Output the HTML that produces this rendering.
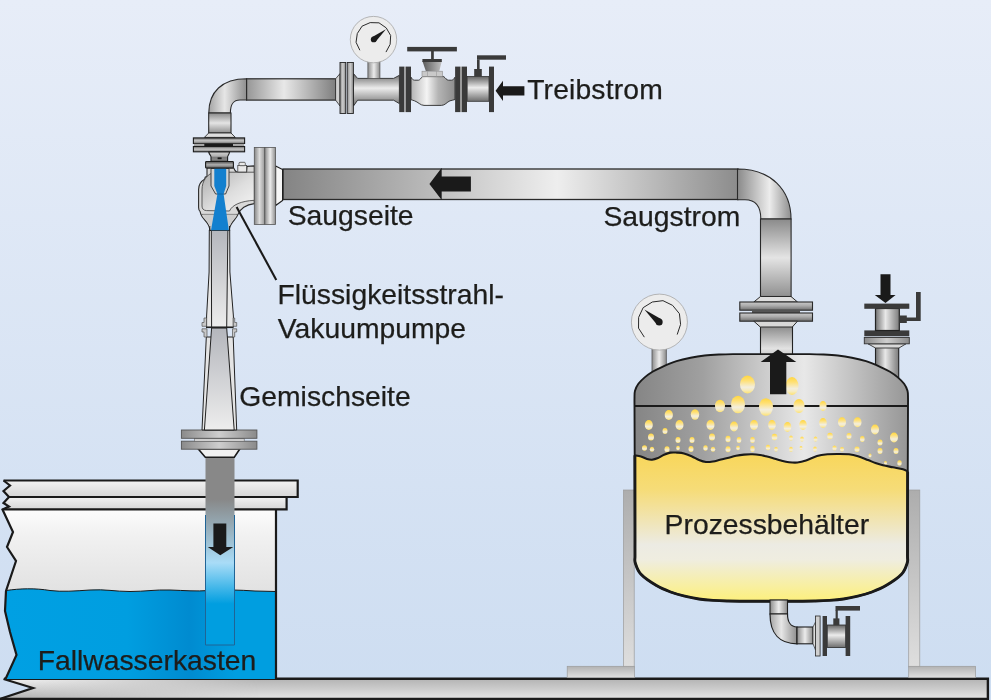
<!DOCTYPE html>
<html lang="de"><head><meta charset="utf-8"><title>Flüssigkeitsstrahl-Vakuumpumpe</title>
<style>
html,body{margin:0;padding:0;background:#d6e2f4;overflow:hidden}
svg{display:block}
text{font-family:"Liberation Sans",sans-serif;font-size:28.3px;fill:#1d1d1b;stroke:#1d1d1b;stroke-width:.25px}
</style></head><body>
<svg width="991" height="700" viewBox="0 0 991 700">
<defs>
<linearGradient id="bg" x1="0" y1="0" x2="0" y2="1"><stop offset="0" stop-color="#e7edf8"/><stop offset="1" stop-color="#cdddf1"/></linearGradient>
<linearGradient id="mv" x1="0" y1="0" x2="0" y2="1"><stop offset="0" stop-color="#646464"/><stop offset=".45" stop-color="#ececec"/><stop offset="1" stop-color="#6e6e6e"/></linearGradient>
<linearGradient id="mv2" x1="0" y1="0" x2="0" y2="1"><stop offset="0" stop-color="#8a8a8a"/><stop offset=".5" stop-color="#e4e4e4"/><stop offset="1" stop-color="#909090"/></linearGradient>
<linearGradient id="mh" x1="0" y1="0" x2="1" y2="0"><stop offset="0" stop-color="#8c8c8c"/><stop offset=".5" stop-color="#ececec"/><stop offset="1" stop-color="#8c8c8c"/></linearGradient>
<linearGradient id="mhs" x1="0" y1="0" x2="1" y2="0"><stop offset="0" stop-color="#727272"/><stop offset=".42" stop-color="#e8e8e8"/><stop offset="1" stop-color="#7c7c7c"/></linearGradient>
<linearGradient id="flv" x1="0" y1="0" x2="0" y2="1"><stop offset="0" stop-color="#cacaca"/><stop offset=".45" stop-color="#acacac"/><stop offset="1" stop-color="#6e6e6e"/></linearGradient>
<linearGradient id="neckv" x1="0" y1="0" x2="0" y2="1"><stop offset="0" stop-color="#8a8a8a"/><stop offset=".7" stop-color="#e2e2e2"/><stop offset="1" stop-color="#c4c4c4"/></linearGradient>
<linearGradient id="neck2" x1="0" y1="0" x2="0" y2="1"><stop offset="0" stop-color="#d2d2d2"/><stop offset=".45" stop-color="#b0b0b0"/><stop offset=".55" stop-color="#7c7c7c"/><stop offset="1" stop-color="#8a8a8a"/></linearGradient>
<linearGradient id="mhd" x1="0" y1="0" x2="1" y2="0"><stop offset="0" stop-color="#858585"/><stop offset=".5" stop-color="#dcdcdc"/><stop offset="1" stop-color="#989898"/></linearGradient>
<linearGradient id="mh2" x1="0" y1="0" x2="1" y2="0"><stop offset="0" stop-color="#8a8a8a"/><stop offset=".5" stop-color="#cecece"/><stop offset="1" stop-color="#8a8a8a"/></linearGradient>
<linearGradient id="drive" x1="0" y1="0" x2="1" y2="0"><stop offset="0" stop-color="#969696"/><stop offset=".42" stop-color="#e8e8e8"/><stop offset="1" stop-color="#7f7f7f"/></linearGradient>
<linearGradient id="sucL" x1="0" y1="0" x2="1" y2="0"><stop offset="0" stop-color="#848484"/><stop offset="1" stop-color="#bebebe"/></linearGradient>
<linearGradient id="sucR" x1="0" y1="0" x2="1" y2="0"><stop offset="0" stop-color="#c2c2c2"/><stop offset=".39" stop-color="#eeeeee"/><stop offset="1" stop-color="#8c8c8c"/></linearGradient>
<linearGradient id="suc" x1="0" y1="0" x2="1" y2="0"><stop offset="0" stop-color="#858585"/><stop offset=".3" stop-color="#8e8e8e"/><stop offset=".78" stop-color="#e0e0e0"/><stop offset="1" stop-color="#a2a2a2"/></linearGradient>
<linearGradient id="fl" x1="0" y1="0" x2="0" y2="1"><stop offset="0" stop-color="#707070"/><stop offset=".5" stop-color="#c4c4c4"/><stop offset="1" stop-color="#7e7e7e"/></linearGradient>
<linearGradient id="fl2" x1="0" y1="0" x2="0" y2="1"><stop offset="0" stop-color="#505050"/><stop offset=".5" stop-color="#b0b0b0"/><stop offset="1" stop-color="#5a5a5a"/></linearGradient>
<linearGradient id="elb1" x1="0" y1="0" x2="1" y2="0"><stop offset="0" stop-color="#a4a4a4"/><stop offset=".42" stop-color="#e6e6e6"/><stop offset="1" stop-color="#8e8e8e"/></linearGradient>
<linearGradient id="elb2" x1="0" y1="0" x2="1" y2="0"><stop offset="0" stop-color="#8a8a8a"/><stop offset=".6" stop-color="#ececec"/><stop offset="1" stop-color="#8e8e8e"/></linearGradient>
<linearGradient id="tankm" x1="0" y1="0" x2="1" y2="0"><stop offset="0" stop-color="#858585"/><stop offset=".25" stop-color="#a0a0a0"/><stop offset=".62" stop-color="#e8e8e8"/><stop offset="1" stop-color="#969696"/></linearGradient>
<linearGradient id="liq" x1="0" y1="0" x2="0" y2="1"><stop offset="0" stop-color="#f8d65a"/><stop offset=".25" stop-color="#f6dc78"/><stop offset=".62" stop-color="#ecebe3"/><stop offset=".72" stop-color="#efede0"/><stop offset="1" stop-color="#fdf07c"/></linearGradient>
<linearGradient id="bub" x1="0" y1="0" x2="0" y2="1"><stop offset="0" stop-color="#ffd640"/><stop offset=".28" stop-color="#ffe074"/><stop offset=".65" stop-color="#f3eedd"/><stop offset=".8" stop-color="#f6ebc0"/><stop offset="1" stop-color="#ffe26c"/></linearGradient>
<linearGradient id="water" x1="0" y1="0" x2="1" y2="0"><stop offset="0" stop-color="#00a0e3"/><stop offset=".45" stop-color="#009ee0"/><stop offset=".68" stop-color="#008bd0"/><stop offset=".85" stop-color="#009ee0"/><stop offset="1" stop-color="#009ee0"/></linearGradient>
<linearGradient id="tankin" x1="0" y1="0" x2="0" y2="1"><stop offset="0" stop-color="#fcfcfc"/><stop offset=".15" stop-color="#f1f1f1"/><stop offset=".48" stop-color="#e2e2e2"/><stop offset="1" stop-color="#e2e2e2"/></linearGradient>
<linearGradient id="lid" x1="0" y1="0" x2="0" y2="1"><stop offset="0" stop-color="#f2f2f2"/><stop offset="1" stop-color="#d6d6d6"/></linearGradient>
<linearGradient id="floor" x1="0" y1="0" x2="0" y2="1"><stop offset="0" stop-color="#b4b4b4"/><stop offset="1" stop-color="#e4e4e4"/></linearGradient>
<linearGradient id="floorL" x1="0" y1="0" x2="0" y2="1"><stop offset="0" stop-color="#eeeeee"/><stop offset="1" stop-color="#b2b2b2"/></linearGradient>
<linearGradient id="fadeL" gradientUnits="userSpaceOnUse" x1="30" y1="0" x2="260" y2="0"><stop offset="0" stop-color="#fff"/><stop offset="1" stop-color="#000"/></linearGradient>
<mask id="mL"><rect x="0" y="670" width="300" height="30" fill="url(#fadeL)"/></mask>
<linearGradient id="fall" gradientUnits="userSpaceOnUse" x1="0" y1="458" x2="0" y2="645"><stop offset="0" stop-color="#888888"/><stop offset=".22" stop-color="#888888"/><stop offset=".56" stop-color="#a9dcf7"/><stop offset=".78" stop-color="#009ee0"/><stop offset="1" stop-color="#009ee0"/></linearGradient>
<linearGradient id="leg" x1="0" y1="0" x2="0" y2="1"><stop offset="0" stop-color="#adadad"/><stop offset="1" stop-color="#dedede"/></linearGradient>
<linearGradient id="base" x1="0" y1="0" x2="0" y2="1"><stop offset="0" stop-color="#b2b2b2"/><stop offset="1" stop-color="#e0e0e0"/></linearGradient>
<linearGradient id="body" x1="0" y1="0" x2="1" y2="1"><stop offset="0" stop-color="#adadad"/><stop offset=".55" stop-color="#dedede"/><stop offset="1" stop-color="#f6f6f6"/></linearGradient>
<linearGradient id="tube" x1="0" y1="0" x2="0" y2="1"><stop offset="0" stop-color="#b4b6bc"/><stop offset="1" stop-color="#ededed"/></linearGradient>
<linearGradient id="vbody" x1="0" y1="0" x2="1" y2="0"><stop offset="0" stop-color="#b4b4b4"/><stop offset=".36" stop-color="#f4f4f4"/><stop offset=".62" stop-color="#b4b4b4"/><stop offset="1" stop-color="#8e8e8e"/></linearGradient>
<linearGradient id="bonnet" x1="0" y1="0" x2="1" y2="0"><stop offset="0" stop-color="#5a5a5a"/><stop offset="1" stop-color="#c0c0c0"/></linearGradient>
</defs>
<rect x="0" y="0" width="991" height="700" fill="url(#bg)"/>
<g id="floor">
<path d="M4,679 L988,679 L988,699 L0,699 L33,688 Z" fill="url(#floor)"/>
<path d="M4,679 L300,679 L300,699 L0,699 L33,688 Z" fill="url(#floorL)" mask="url(#mL)"/>
<path d="M4,678.8 L987.9,678.8 L987.9,699 L-3,699" fill="none" stroke="#1a1a1a" stroke-width="2.4"/>
<path d="M3.5,679 L33,688 L-2,699.5" fill="none" stroke="#1a1a1a" stroke-width="2.2" stroke-linejoin="miter"/>
</g>
<g id="legs">
<rect x="623.4" y="490" width="10.8" height="177" fill="url(#leg)" stroke="#9c9c9c" stroke-width=".7"/>
<rect x="567.2" y="666.3" width="67.3" height="11.4" fill="url(#base)" stroke="#9c9c9c" stroke-width=".7"/>
<rect x="908.7" y="490" width="11.1" height="177" fill="url(#leg)" stroke="#9c9c9c" stroke-width=".7"/>
<rect x="908.7" y="666.3" width="66.9" height="11.4" fill="url(#base)" stroke="#9c9c9c" stroke-width=".7"/>
</g>
<g id="tankfit-back">
<rect x="652" y="348" width="14.3" height="26" fill="url(#mh)" stroke="#555" stroke-width=".8"/>
<rect x="760.5" y="326" width="32" height="32" fill="url(#neckv)" stroke="#222" stroke-width="1.1"/>
<rect x="875.5" y="347" width="23.2" height="32" fill="url(#mhs)" stroke="#222" stroke-width="1.1"/>
</g>
<g id="tank">
<clipPath id="tankclip"><path d="M634.50,406.00 C634.50,404.67 634.42,400.53 634.50,398.00 C634.58,395.47 634.35,393.17 635.00,390.80 C635.65,388.43 636.78,386.03 638.40,383.80 C640.02,381.57 642.35,379.40 644.70,377.40 C647.05,375.40 649.55,373.57 652.50,371.80 C655.45,370.03 658.40,368.57 662.40,366.80 C666.40,365.03 671.80,362.72 676.50,361.20 C681.20,359.68 685.90,358.65 690.60,357.70 C695.30,356.75 699.98,356.03 704.70,355.50 C709.42,354.97 714.18,354.73 718.90,354.50 C723.62,354.27 726.15,354.17 733.00,354.10 C739.85,354.03 751.75,354.10 760.00,354.10 C768.25,354.10 774.25,354.10 782.50,354.10 C790.75,354.10 802.65,354.03 809.50,354.10 C816.35,354.17 818.88,354.27 823.60,354.50 C828.32,354.73 833.08,354.97 837.80,355.50 C842.52,356.03 847.20,356.75 851.90,357.70 C856.60,358.65 861.30,359.68 866.00,361.20 C870.70,362.72 876.10,365.03 880.10,366.80 C884.10,368.57 887.05,370.03 890.00,371.80 C892.95,373.57 895.45,375.40 897.80,377.40 C900.15,379.40 902.48,381.57 904.10,383.80 C905.72,386.03 906.85,388.43 907.50,390.80 C908.15,393.17 907.92,395.47 908.00,398.00 C908.08,400.53 908.00,404.67 908.00,406.00 L907.50,540.00 C907.50,542.67 907.55,552.17 907.50,556.00 C907.45,559.83 908.20,559.95 907.20,563.00 C906.20,566.05 905.03,570.53 901.50,574.30 C897.97,578.07 890.93,582.65 886.00,585.60 C881.07,588.55 876.60,590.23 871.90,592.00 C867.20,593.77 862.52,595.03 857.80,596.20 C853.08,597.37 848.32,598.30 843.60,599.00 C838.88,599.70 834.18,600.07 829.50,600.40 C824.82,600.73 820.83,600.87 815.50,601.00 C810.17,601.13 809.25,601.17 797.50,601.20 C785.75,601.23 756.75,601.23 745.00,601.20 C733.25,601.17 732.33,601.13 727.00,601.00 C721.67,600.87 717.68,600.73 713.00,600.40 C708.32,600.07 703.62,599.70 698.90,599.00 C694.18,598.30 689.42,597.37 684.70,596.20 C679.98,595.03 675.30,593.77 670.60,592.00 C665.90,590.23 661.43,588.55 656.50,585.60 C651.57,582.65 644.53,578.07 641.00,574.30 C637.47,570.53 636.30,566.05 635.30,563.00 C634.30,559.95 635.05,559.83 635.00,556.00 C634.95,552.17 635.00,542.67 635.00,540.00 Z"/></clipPath>
<path d="M634.50,406.00 C634.50,404.67 634.42,400.53 634.50,398.00 C634.58,395.47 634.35,393.17 635.00,390.80 C635.65,388.43 636.78,386.03 638.40,383.80 C640.02,381.57 642.35,379.40 644.70,377.40 C647.05,375.40 649.55,373.57 652.50,371.80 C655.45,370.03 658.40,368.57 662.40,366.80 C666.40,365.03 671.80,362.72 676.50,361.20 C681.20,359.68 685.90,358.65 690.60,357.70 C695.30,356.75 699.98,356.03 704.70,355.50 C709.42,354.97 714.18,354.73 718.90,354.50 C723.62,354.27 726.15,354.17 733.00,354.10 C739.85,354.03 751.75,354.10 760.00,354.10 C768.25,354.10 774.25,354.10 782.50,354.10 C790.75,354.10 802.65,354.03 809.50,354.10 C816.35,354.17 818.88,354.27 823.60,354.50 C828.32,354.73 833.08,354.97 837.80,355.50 C842.52,356.03 847.20,356.75 851.90,357.70 C856.60,358.65 861.30,359.68 866.00,361.20 C870.70,362.72 876.10,365.03 880.10,366.80 C884.10,368.57 887.05,370.03 890.00,371.80 C892.95,373.57 895.45,375.40 897.80,377.40 C900.15,379.40 902.48,381.57 904.10,383.80 C905.72,386.03 906.85,388.43 907.50,390.80 C908.15,393.17 907.92,395.47 908.00,398.00 C908.08,400.53 908.00,404.67 908.00,406.00 L907.50,540.00 C907.50,542.67 907.55,552.17 907.50,556.00 C907.45,559.83 908.20,559.95 907.20,563.00 C906.20,566.05 905.03,570.53 901.50,574.30 C897.97,578.07 890.93,582.65 886.00,585.60 C881.07,588.55 876.60,590.23 871.90,592.00 C867.20,593.77 862.52,595.03 857.80,596.20 C853.08,597.37 848.32,598.30 843.60,599.00 C838.88,599.70 834.18,600.07 829.50,600.40 C824.82,600.73 820.83,600.87 815.50,601.00 C810.17,601.13 809.25,601.17 797.50,601.20 C785.75,601.23 756.75,601.23 745.00,601.20 C733.25,601.17 732.33,601.13 727.00,601.00 C721.67,600.87 717.68,600.73 713.00,600.40 C708.32,600.07 703.62,599.70 698.90,599.00 C694.18,598.30 689.42,597.37 684.70,596.20 C679.98,595.03 675.30,593.77 670.60,592.00 C665.90,590.23 661.43,588.55 656.50,585.60 C651.57,582.65 644.53,578.07 641.00,574.30 C637.47,570.53 636.30,566.05 635.30,563.00 C634.30,559.95 635.05,559.83 635.00,556.00 C634.95,552.17 635.00,542.67 635.00,540.00 Z" fill="url(#tankm)"/>
<g clip-path="url(#tankclip)">
<path d="M634.50,455.20 C635.58,455.42 638.92,455.87 641.00,456.50 C643.08,457.13 645.17,458.47 647.00,459.00 C648.83,459.53 650.17,459.87 652.00,459.70 C653.83,459.53 656.00,458.82 658.00,458.00 C660.00,457.18 661.92,455.70 664.00,454.80 C666.08,453.90 668.33,452.97 670.50,452.60 C672.67,452.23 674.75,452.47 677.00,452.60 C679.25,452.73 681.50,452.75 684.00,453.40 C686.50,454.05 689.50,455.40 692.00,456.50 C694.50,457.60 696.67,459.08 699.00,460.00 C701.33,460.92 703.67,461.75 706.00,462.00 C708.33,462.25 710.67,461.87 713.00,461.50 C715.33,461.13 717.58,460.38 720.00,459.80 C722.42,459.22 724.83,458.67 727.50,458.00 C730.17,457.33 733.25,456.37 736.00,455.80 C738.75,455.23 741.25,454.85 744.00,454.60 C746.75,454.35 749.83,454.23 752.50,454.30 C755.17,454.37 757.75,454.67 760.00,455.00 C762.25,455.33 763.92,455.80 766.00,456.30 C768.08,456.80 770.00,457.30 772.50,458.00 C775.00,458.70 778.25,459.80 781.00,460.50 C783.75,461.20 786.25,461.87 789.00,462.20 C791.75,462.53 794.67,462.78 797.50,462.50 C800.33,462.22 802.75,461.58 806.00,460.50 C809.25,459.42 813.42,457.03 817.00,456.00 C820.58,454.97 824.00,454.63 827.50,454.30 C831.00,453.97 834.42,454.00 838.00,454.00 C841.58,454.00 845.67,453.93 849.00,454.30 C852.33,454.67 854.83,455.25 858.00,456.20 C861.17,457.15 865.08,458.87 868.00,460.00 C870.92,461.13 873.00,462.12 875.50,463.00 C878.00,463.88 880.08,464.58 883.00,465.30 C885.92,466.02 889.67,466.63 893.00,467.30 C896.33,467.97 900.50,468.60 903.00,469.30 C905.50,470.00 907.17,471.13 908.00,471.50 L907.50,540.00 C907.50,542.67 907.55,552.17 907.50,556.00 C907.45,559.83 908.20,559.95 907.20,563.00 C906.20,566.05 905.03,570.53 901.50,574.30 C897.97,578.07 890.93,582.65 886.00,585.60 C881.07,588.55 876.60,590.23 871.90,592.00 C867.20,593.77 862.52,595.03 857.80,596.20 C853.08,597.37 848.32,598.30 843.60,599.00 C838.88,599.70 834.18,600.07 829.50,600.40 C824.82,600.73 820.83,600.87 815.50,601.00 C810.17,601.13 809.25,601.17 797.50,601.20 C785.75,601.23 756.75,601.23 745.00,601.20 C733.25,601.17 732.33,601.13 727.00,601.00 C721.67,600.87 717.68,600.73 713.00,600.40 C708.32,600.07 703.62,599.70 698.90,599.00 C694.18,598.30 689.42,597.37 684.70,596.20 C679.98,595.03 675.30,593.77 670.60,592.00 C665.90,590.23 661.43,588.55 656.50,585.60 C651.57,582.65 644.53,578.07 641.00,574.30 C637.47,570.53 636.30,566.05 635.30,563.00 C634.30,559.95 635.05,559.83 635.00,556.00 C634.95,552.17 635.00,542.67 635.00,540.00 Z" fill="url(#liq)"/>
<line x1="634" y1="406" x2="909" y2="406" stroke="#1a1a1a" stroke-width="1.9"/>
</g>
<g fill="url(#bub)">
<ellipse cx="747.5" cy="384.5" rx="7.5" ry="9"/><ellipse cx="792" cy="386" rx="6.5" ry="9"/><ellipse cx="720" cy="406" rx="5" ry="6.2"/><ellipse cx="738" cy="404.5" rx="7" ry="8.8"/><ellipse cx="766" cy="407" rx="7" ry="8.8"/><ellipse cx="799" cy="406" rx="5.6" ry="7"/><ellipse cx="823" cy="406" rx="3.6" ry="5"/><ellipse cx="668.8" cy="415" rx="4.1" ry="5"/><ellipse cx="695" cy="414.5" rx="4.2" ry="5.2"/><ellipse cx="648.8" cy="425" rx="4" ry="5"/><ellipse cx="679.5" cy="425" rx="4" ry="5"/><ellipse cx="710.5" cy="425" rx="4" ry="5"/><ellipse cx="734" cy="426.5" rx="4" ry="5"/><ellipse cx="754" cy="425" rx="4" ry="5"/><ellipse cx="772" cy="425" rx="3.8" ry="5"/><ellipse cx="787.5" cy="427" rx="3.8" ry="5"/><ellipse cx="803" cy="425" rx="3.8" ry="5"/><ellipse cx="823" cy="423" rx="3.8" ry="5"/><ellipse cx="842" cy="422.3" rx="4" ry="5"/><ellipse cx="857.5" cy="422.3" rx="4" ry="5"/><ellipse cx="875" cy="429.5" rx="4" ry="5"/><ellipse cx="894" cy="437.5" rx="4" ry="5"/><ellipse cx="665" cy="431" rx="2.5" ry="3"/><ellipse cx="651" cy="437" rx="3" ry="3.5"/><ellipse cx="678" cy="440" rx="2.5" ry="3"/><ellipse cx="692" cy="440" rx="2.5" ry="3"/><ellipse cx="712" cy="437" rx="3" ry="3.5"/><ellipse cx="728" cy="439" rx="2.5" ry="3.2"/><ellipse cx="739" cy="440" rx="2.3" ry="3"/><ellipse cx="752.5" cy="440" rx="2.3" ry="3"/><ellipse cx="774.5" cy="437" rx="2.8" ry="3.3"/><ellipse cx="791" cy="438" rx="2" ry="2.5"/><ellipse cx="802" cy="439" rx="2" ry="2.5"/><ellipse cx="815.5" cy="439" rx="2" ry="2.5"/><ellipse cx="830" cy="436" rx="2.8" ry="3.3"/><ellipse cx="849" cy="436" rx="2.5" ry="3"/><ellipse cx="862.3" cy="439" rx="2.3" ry="3"/><ellipse cx="880" cy="442.5" rx="2.5" ry="3"/><ellipse cx="644.5" cy="448" rx="2.5" ry="2.8"/><ellipse cx="652" cy="449.2" rx="2.2" ry="2.5"/><ellipse cx="667" cy="449.2" rx="2.5" ry="3"/><ellipse cx="678" cy="448" rx="1.8" ry="2.2"/><ellipse cx="691" cy="449" rx="2.5" ry="3"/><ellipse cx="705.5" cy="448" rx="2.2" ry="2.8"/><ellipse cx="713" cy="449.2" rx="2.2" ry="2.5"/><ellipse cx="728" cy="449.2" rx="2.5" ry="3"/><ellipse cx="738" cy="448" rx="1.8" ry="2.2"/><ellipse cx="752.5" cy="449" rx="2.2" ry="3"/><ellipse cx="768" cy="447.5" rx="2.2" ry="2.8"/><ellipse cx="776" cy="449.2" rx="1.8" ry="2.2"/><ellipse cx="791" cy="449.2" rx="2" ry="2.5"/><ellipse cx="801" cy="448" rx="1.5" ry="2"/><ellipse cx="815" cy="449" rx="2" ry="2.5"/><ellipse cx="834.5" cy="448" rx="2.2" ry="2.5"/><ellipse cx="842" cy="449.2" rx="2" ry="2.2"/><ellipse cx="857" cy="449.2" rx="2.5" ry="2.8"/><ellipse cx="880" cy="451" rx="2.5" ry="3"/><ellipse cx="896" cy="451" rx="2.5" ry="3"/><ellipse cx="870" cy="455.5" rx="1.5" ry="2"/><ellipse cx="885.5" cy="463" rx="1.5" ry="2"/><ellipse cx="899.5" cy="463" rx="2.2" ry="2.8"/>
</g>
<path d="M634.50,406.00 C634.50,404.67 634.42,400.53 634.50,398.00 C634.58,395.47 634.35,393.17 635.00,390.80 C635.65,388.43 636.78,386.03 638.40,383.80 C640.02,381.57 642.35,379.40 644.70,377.40 C647.05,375.40 649.55,373.57 652.50,371.80 C655.45,370.03 658.40,368.57 662.40,366.80 C666.40,365.03 671.80,362.72 676.50,361.20 C681.20,359.68 685.90,358.65 690.60,357.70 C695.30,356.75 699.98,356.03 704.70,355.50 C709.42,354.97 714.18,354.73 718.90,354.50 C723.62,354.27 726.15,354.17 733.00,354.10 C739.85,354.03 751.75,354.10 760.00,354.10 C768.25,354.10 774.25,354.10 782.50,354.10 C790.75,354.10 802.65,354.03 809.50,354.10 C816.35,354.17 818.88,354.27 823.60,354.50 C828.32,354.73 833.08,354.97 837.80,355.50 C842.52,356.03 847.20,356.75 851.90,357.70 C856.60,358.65 861.30,359.68 866.00,361.20 C870.70,362.72 876.10,365.03 880.10,366.80 C884.10,368.57 887.05,370.03 890.00,371.80 C892.95,373.57 895.45,375.40 897.80,377.40 C900.15,379.40 902.48,381.57 904.10,383.80 C905.72,386.03 906.85,388.43 907.50,390.80 C908.15,393.17 907.92,395.47 908.00,398.00 C908.08,400.53 908.00,404.67 908.00,406.00 L907.50,540.00 C907.50,542.67 907.55,552.17 907.50,556.00 C907.45,559.83 908.20,559.95 907.20,563.00 C906.20,566.05 905.03,570.53 901.50,574.30 C897.97,578.07 890.93,582.65 886.00,585.60 C881.07,588.55 876.60,590.23 871.90,592.00 C867.20,593.77 862.52,595.03 857.80,596.20 C853.08,597.37 848.32,598.30 843.60,599.00 C838.88,599.70 834.18,600.07 829.50,600.40 C824.82,600.73 820.83,600.87 815.50,601.00 C810.17,601.13 809.25,601.17 797.50,601.20 C785.75,601.23 756.75,601.23 745.00,601.20 C733.25,601.17 732.33,601.13 727.00,601.00 C721.67,600.87 717.68,600.73 713.00,600.40 C708.32,600.07 703.62,599.70 698.90,599.00 C694.18,598.30 689.42,597.37 684.70,596.20 C679.98,595.03 675.30,593.77 670.60,592.00 C665.90,590.23 661.43,588.55 656.50,585.60 C651.57,582.65 644.53,578.07 641.00,574.30 C637.47,570.53 636.30,566.05 635.30,563.00 C634.30,559.95 635.05,559.83 635.00,556.00 C634.95,552.17 635.00,542.67 635.00,540.00 Z" fill="none" stroke="#1a1a1a" stroke-width="1.9"/>
<path d="M634.50,455.20 C635.58,455.42 638.92,455.87 641.00,456.50 C643.08,457.13 645.17,458.47 647.00,459.00 C648.83,459.53 650.17,459.87 652.00,459.70 C653.83,459.53 656.00,458.82 658.00,458.00 C660.00,457.18 661.92,455.70 664.00,454.80 C666.08,453.90 668.33,452.97 670.50,452.60 C672.67,452.23 674.75,452.47 677.00,452.60 C679.25,452.73 681.50,452.75 684.00,453.40 C686.50,454.05 689.50,455.40 692.00,456.50 C694.50,457.60 696.67,459.08 699.00,460.00 C701.33,460.92 703.67,461.75 706.00,462.00 C708.33,462.25 710.67,461.87 713.00,461.50 C715.33,461.13 717.58,460.38 720.00,459.80 C722.42,459.22 724.83,458.67 727.50,458.00 C730.17,457.33 733.25,456.37 736.00,455.80 C738.75,455.23 741.25,454.85 744.00,454.60 C746.75,454.35 749.83,454.23 752.50,454.30 C755.17,454.37 757.75,454.67 760.00,455.00 C762.25,455.33 763.92,455.80 766.00,456.30 C768.08,456.80 770.00,457.30 772.50,458.00 C775.00,458.70 778.25,459.80 781.00,460.50 C783.75,461.20 786.25,461.87 789.00,462.20 C791.75,462.53 794.67,462.78 797.50,462.50 C800.33,462.22 802.75,461.58 806.00,460.50 C809.25,459.42 813.42,457.03 817.00,456.00 C820.58,454.97 824.00,454.63 827.50,454.30 C831.00,453.97 834.42,454.00 838.00,454.00 C841.58,454.00 845.67,453.93 849.00,454.30 C852.33,454.67 854.83,455.25 858.00,456.20 C861.17,457.15 865.08,458.87 868.00,460.00 C870.92,461.13 873.00,462.12 875.50,463.00 C878.00,463.88 880.08,464.58 883.00,465.30 C885.92,466.02 889.67,466.63 893.00,467.30 C896.33,467.97 900.50,468.60 903.00,469.30 C905.50,470.00 907.17,471.13 908.00,471.50" fill="none" stroke="#1a1a1a" stroke-width="2.1" stroke-linejoin="round"/>
<path d="M907.60,471.50 L907.50,540.00 C907.50,542.67 907.55,552.17 907.50,556.00 C907.45,559.83 908.20,559.95 907.20,563.00 C906.20,566.05 905.03,570.53 901.50,574.30 C897.97,578.07 890.93,582.65 886.00,585.60 C881.07,588.55 876.60,590.23 871.90,592.00 C867.20,593.77 862.52,595.03 857.80,596.20 C853.08,597.37 848.32,598.30 843.60,599.00 C838.88,599.70 834.18,600.07 829.50,600.40 C824.82,600.73 820.83,600.87 815.50,601.00 C810.17,601.13 809.25,601.17 797.50,601.20 C785.75,601.23 756.75,601.23 745.00,601.20 C733.25,601.17 732.33,601.13 727.00,601.00 C721.67,600.87 717.68,600.73 713.00,600.40 C708.32,600.07 703.62,599.70 698.90,599.00 C694.18,598.30 689.42,597.37 684.70,596.20 C679.98,595.03 675.30,593.77 670.60,592.00 C665.90,590.23 661.43,588.55 656.50,585.60 C651.57,582.65 644.53,578.07 641.00,574.30 C637.47,570.53 636.30,566.05 635.30,563.00 C634.30,559.95 635.05,559.83 635.00,556.00 C634.95,552.17 635.00,542.67 635.00,540.00 L634.9,455.2" fill="none" stroke="#1a1a1a" stroke-width="2.9" stroke-linejoin="round"/>
</g>
<g id="gauge2">
<circle cx="659.4" cy="322.1" r="28" fill="#ececec" stroke="#a6a6a6" stroke-width=".8"/>
<polyline points="644.34,337.16 638.53,328.13 638.63,317.39 643.17,307.66 652.31,302.01 662.97,300.67 672.61,305.39 679.43,313.69 680.58,324.37 677.20,334.56" fill="none" stroke="#2a2a2a" stroke-width="1" stroke-linejoin="round"/>
<path d="M644.39,309.50 L661.42,319.23 L656.92,324.59 Z" fill="#1a1a1a"/><circle cx="659.17" cy="321.91" r="3.50" fill="#1a1a1a"/>
</g>
<g id="suction">
<rect x="283" y="169" width="158.5" height="30.5" fill="url(#sucL)"/>
<rect x="441.5" y="169" width="296.5" height="30.5" fill="url(#sucR)"/>
<rect x="283" y="169" width="455" height="30.5" fill="none" stroke="#2a2a2a" stroke-width="1.3"/>
<path d="M737.5,169 C771,169 791,190 791,219 L760.8,219 C760.8,207 756,199.8 745,199.8 L737.5,199.8 Z" fill="url(#elb2)" stroke="#2a2a2a" stroke-width="1.1"/>
<rect x="760.5" y="219" width="30.6" height="77.5" fill="url(#mv2)" stroke="#2a2a2a" stroke-width="1.1"/>
<path d="M760.5,296.5 L791,296.5 L797.5,302 L753.8,302 Z" fill="#dedede" stroke="#2a2a2a" stroke-width="1"/>
<rect x="739.8" y="302" width="72.7" height="8.2" fill="url(#flv)" stroke="#2a2a2a" stroke-width="1.1"/>
<rect x="752" y="310.2" width="48" height="3" fill="#555"/>
<rect x="739.8" y="313" width="72.7" height="8.2" fill="url(#flv)" stroke="#2a2a2a" stroke-width="1.1"/>
<path d="M753.8,321.2 L797.5,321.2 L792.3,327 L760.3,327 Z" fill="#d8d8d8" stroke="#2a2a2a" stroke-width="1"/>
</g>
<g id="rvalve">
<path d="M868,343.8 L906,343.8 L899,348 L875.5,348 Z" fill="#d8d8d8" stroke="#333" stroke-width=".9"/>
<rect x="864.3" y="337.5" width="45" height="6.3" fill="url(#mh2)" stroke="#333" stroke-width=".9"/>
<rect x="864.3" y="330.4" width="45" height="5.9" fill="#3a3a3a"/>
<rect x="875.5" y="308.5" width="23.8" height="22" fill="url(#mhs)" stroke="#222" stroke-width="1.2"/>
<rect x="864.3" y="303.6" width="45" height="5.2" fill="#3a3a3a"/>
<rect x="899.3" y="315.5" width="7.5" height="7.5" fill="#3a3a3a"/>
<path d="M906,317.5 L916,317.5 L916,292 L920.7,292 L920.7,321 L906,321 Z" fill="#3a3a3a"/>
</g>
<g id="drain">
<rect x="770" y="600" width="17.5" height="14" fill="url(#mh)" stroke="#1f1f1f" stroke-width="1.1"/>
<path d="M770,614 C770,634 780,643.8 797,643.8 L797,627 C791,627 787.5,622 787.5,614 Z" fill="url(#elb1)" stroke="#1f1f1f" stroke-width="1.2"/>
<rect x="797" y="627" width="16" height="16.8" fill="url(#mh)" stroke="#1f1f1f" stroke-width="1.1"/>
<path d="M813,627 L815.5,622 L815.5,650 L813,643.8 Z" fill="#ddd" stroke="#2a2a2a" stroke-width=".7"/>
<rect x="815.5" y="616" width="4.6" height="40" fill="#cfcfcf" stroke="#2a2a2a" stroke-width=".8"/>
<rect x="822.6" y="616" width="4.4" height="40" fill="#3a3a3a"/>
<rect x="827.3" y="625" width="18.4" height="22.5" fill="url(#mv)" stroke="#2a2a2a" stroke-width=".8"/>
<rect x="845.6" y="616" width="4.6" height="40" fill="#3a3a3a"/>
<rect x="835.5" y="606" width="24.5" height="4.6" fill="#3a3a3a"/>
<rect x="835.6" y="610" width="2.2" height="9" fill="#3a3a3a"/>
<rect x="833.3" y="618.4" width="6.1" height="6.8" fill="#3a3a3a"/>
</g>
<g id="fall">
<path d="M2.5,509.5 L276,509.5 L276,679 L5.5,679 L16.5,655 L10,632 L5,611 L6,591 L16,561 L7,547 L13,532 Z" fill="url(#tankin)"/>
<path d="M6,590.5 C20,588.5 35,588 50,590.5 C62,592 75,591 90,590 C105,589 115,591.5 130,591.5 C145,591.5 155,589.5 170,590 C185,590.5 195,591.5 210,590.5 C225,589.5 240,590 255,591 L276,591.5 L276,679 L5.5,679 L16.5,655 L10,632 L5,611 Z" fill="url(#water)"/>
<path d="M6,590.5 C20,588.5 35,588 50,590.5 C62,592 75,591 90,590 C105,589 115,591.5 130,591.5 C145,591.5 155,589.5 170,590 C185,590.5 195,591.5 210,590.5 C225,589.5 240,590 255,591 L276,591.5" fill="none" stroke="#1a1a1a" stroke-width="1"/>
<path d="M3.5,480.5 L297.7,480.5 L297.7,497 L9,497 L3.5,491 L10,485.5 Z" fill="url(#lid)"/>
<path d="M9,497 L286.6,497 L286.6,509.4 L2.5,509.5 L9,506.5 L3.5,503 Z" fill="url(#lid)"/>
<path d="M3.5,480.5 L297.7,480.5 L297.7,497 L9,497 M286.6,497 L286.6,509.4 L2.5,509.4 M276,509.4 L276,679" stroke="#1a1a1a" stroke-width="2.2" fill="none" stroke-linejoin="miter"/>
<path d="M3.5,480.5 L10,485.5 L3.5,491 L9,497 L3.5,503 L9,506.5 L2.5,509.5 L13,532 L7,547 L16,561 L6,591 L5,611 L10,632 L16.5,655 L5.5,679" stroke="#1a1a1a" stroke-width="2.2" fill="none" stroke-linejoin="miter"/>
<rect x="205.5" y="457" width="29" height="188" fill="url(#fall)"/>
<path d="M205.5,515 L205.5,645 L234.5,645 L234.5,515" fill="none" stroke="#1f6496" stroke-width="1"/>
</g>
<g id="diffuser">
<path d="M198.3,449 L239.8,449 L234.3,457.3 L205.3,457.3 Z" fill="#f0f0f0" stroke="#1a1a1a" stroke-width="1.6"/>
<rect x="181.4" y="441.2" width="75.5" height="8" fill="url(#mh2)" stroke="#555" stroke-width=".9"/>
<rect x="194.6" y="438.3" width="49.6" height="3" fill="#cfcfcf" stroke="#666" stroke-width=".6"/>
<rect x="181.4" y="430" width="75.5" height="8.3" fill="url(#mh2)" stroke="#555" stroke-width=".9"/>
<path d="M206.3,337 L233.2,337 L236.7,430 L202,430 Z" fill="#e4e4e4" stroke="#222" stroke-width="1"/>
<path d="M211.6,328 L226.7,328 L234.2,430 L204.4,430 Z" fill="url(#tube)" stroke="#222" stroke-width="1"/>
<path d="M209.3,230 L229.7,230 L229.9,272 L233.4,316 L233.4,327 L206.6,327 L206.6,316 L209.1,272 Z" fill="#e6e6e6" stroke="#222" stroke-width="1"/>
<path d="M211.3,230 L227.9,230 L226.7,327 L211.6,327 Z" fill="url(#tube)" stroke="#222" stroke-width="1"/>
<path d="M202,326.3 L202,322.5 L204,322.5 L204,318 L206.5,318 L206.5,326.3 Z M236.7,326.3 L236.7,322.5 L234.7,322.5 L234.7,318 L233.2,318 L233.2,326.3 Z" fill="#c8c8c8" stroke="#555" stroke-width=".7"/>
<path d="M202,328.8 L202,332 L204,332 L204,337 L207,337 L207,328.8 Z M236.7,328.8 L236.7,332 L234.7,332 L234.7,337 L232.5,337 L232.5,328.8 Z" fill="#c8c8c8" stroke="#555" stroke-width=".7"/>
<line x1="206" y1="327.5" x2="233.5" y2="327.5" stroke="#222" stroke-width="1.2"/>
</g>
<g id="pump">
<path d="M207,168 L207,176.5 L205.3,177 L204.6,179.3 C200.8,181.5 198.6,185 198.6,189.5 L198.6,207.5 C198.6,209.5 199.2,210.6 200,211.3 L200.9,214.4 C202.5,219.5 208.6,222 209.6,228.5 L209.6,230.5 L229.6,230.5 L229.6,228.5 C230.6,222 236.2,219.5 238,214.4 C240,209 246,204.3 254.3,203.6 L254.3,165.9 L247,166.4 L246.6,172 L236.5,172 L235,170.5 L233.7,168 Z" fill="#d8d8d8" stroke="#2a2a2a" stroke-width="1.1" stroke-linejoin="round"/>
<path d="M202,190 C202,180.5 207,174.5 214,172.2 L254.3,172.2 L254.3,200.3 C241,201 232,205 229.5,211 L206.5,210.6 C203.5,210.4 202,208.8 202,206 Z" fill="url(#body)" stroke="#3c3c3c" stroke-width=".8"/>
<path d="M200.9,214.4 L238,214.4" stroke="#4a4a4a" stroke-width=".7" fill="none"/>
<path d="M203,214.8 L236,214.8 C234.5,219.5 230.5,221.5 229.6,227 L209.6,227 C208.7,221.5 204.5,219.5 203,214.8 Z" fill="#cdcdcd"/>
<rect x="237.8" y="165.5" width="8.8" height="6.5" fill="#e8e8e8" stroke="#444" stroke-width=".8"/>
<rect x="239" y="162.3" width="6.3" height="3.4" rx="1" fill="#e8e8e8" stroke="#444" stroke-width=".8"/>
<path d="M211,168.5 L229,168.5 L229,186 L225.6,194 L215.6,194 L211,186 Z" fill="#d4d4d4" stroke="#333" stroke-width=".9"/>
<path d="M214.3,168.5 L226.2,168.5 L226.2,186 L223.6,194 L228.9,230.3 L211,230.3 L217.4,194 L214.3,186 Z" fill="#1380cf"/>
<line x1="217.4" y1="194" x2="223.6" y2="194" stroke="#0b5f9e" stroke-width=".8"/>
<path d="M211,230.3 L209.8,230.3 L209.8,226 M228.9,230.3 L229.5,230.3 L229.5,226" stroke="#222" stroke-width="1" fill="none"/>
</g>
<g id="sucflange">
<path d="M275.6,166 L282.6,169.5 L282.6,200.5 L275.6,205.5 Z" fill="#f6f6f6" stroke="#1f1f1f" stroke-width="1.2"/>
<rect x="254.3" y="147.4" width="10.5" height="77" fill="url(#mhd)" stroke="#555" stroke-width=".8"/>
<rect x="264.8" y="147.4" width="10.8" height="77" fill="url(#mh)" stroke="#555" stroke-width=".8"/>
</g>
<g id="drivepipe">
<path d="M246.6,78.8 C222,78.8 208.8,92 208.8,113 L230.4,113 C230.4,104 233,100 240,100 L246.6,100 Z" fill="url(#elb1)" stroke="#2a2a2a" stroke-width="1.1"/>
<rect x="246.6" y="78.8" width="89" height="21.3" fill="url(#drive)" stroke="#2a2a2a" stroke-width="1.2"/>
<rect x="208.7" y="113" width="22.3" height="20" fill="url(#mv2)" stroke="#2a2a2a" stroke-width="1.1"/>
<path d="M208.7,133 L231,133 L235.3,137.4 L204.4,137.4 Z" fill="#dedede" stroke="#2a2a2a" stroke-width=".9"/>
<rect x="193.4" y="137.9" width="51.2" height="5.6" fill="url(#fl)" stroke="#1c1c1c" stroke-width="1.1"/>
<rect x="194" y="143.8" width="50" height="2.4" fill="#a8a8a8"/>
<rect x="204.3" y="143.8" width="28.7" height="2.4" fill="#1a1a1a"/>
<rect x="193.4" y="146.5" width="51.2" height="5.3" fill="url(#fl)" stroke="#1c1c1c" stroke-width="1.1"/>
<path d="M208.7,152 C209.5,155 211,155.5 211,157 L211,161.3 L227.6,161.3 L227.6,157 C227.6,155.5 229,155 229.6,152 Z" fill="url(#neck2)" stroke="#1f1f1f" stroke-width="1.1"/>
<rect x="217.6" y="157.4" width="4" height="1.8" fill="#1a1a1a"/>
<rect x="205.6" y="161.5" width="27.8" height="6.5" rx=".8" fill="url(#fl2)" stroke="#1c1c1c" stroke-width="1.1"/>
</g>
<g id="valves">
<path d="M335.6,78.8 L340,73.6 L340,106 L335.6,100.1 Z" fill="#d0d0d0" stroke="#2a2a2a" stroke-width=".8"/>
<path d="M353.5,73.6 L357.6,78.4 L393.6,78.4 L399.4,75.3 L399.4,103.6 L393.6,100.2 L357.6,100.2 L353.5,106 Z" fill="url(#mv)" stroke="#2a2a2a" stroke-width=".9"/>
<rect x="367.9" y="61" width="12" height="17.6" fill="url(#mh)" stroke="#555" stroke-width=".8"/>
<rect x="340" y="62.5" width="5.7" height="51" fill="url(#mh2)" stroke="#262626" stroke-width=".9"/>
<rect x="347.2" y="62.5" width="6.2" height="51" fill="url(#mh2)" stroke="#262626" stroke-width=".9"/>
<rect x="399.2" y="66.6" width="4.9" height="45.5" fill="#3a3a3a"/>
<rect x="404.1" y="66.6" width="2" height="45.5" fill="#9a9a9a"/>
<rect x="406" y="66.6" width="5" height="45.5" fill="#3a3a3a"/>
<path d="M411,77.2 C412,79 413,80 414.5,80.2 L418.5,80.2 C420,80 421,78 422.5,76.6 L443.8,76.6 C445.5,78 446.5,80 448.5,80.2 L451.5,80.2 C453,80 454,79 455,77.2 L455,99.5 C453.5,100 452,100.3 450,100.8 C447,102 445,105.4 441.5,105.4 L424,105.4 C420.5,105.4 418,102 414.5,100.8 C413,100.3 412,100 411,99.7 Z" fill="url(#vbody)" stroke="#2a2a2a" stroke-width=".9"/>
<rect x="422" y="71.2" width="20.5" height="5.4" fill="#c9c9c9" stroke="#8a8a8a" stroke-width=".6"/>
<line x1="427.5" y1="71.2" x2="427.5" y2="76.6" stroke="#9a9a9a" stroke-width=".6"/>
<line x1="436.5" y1="71.2" x2="436.5" y2="76.6" stroke="#9a9a9a" stroke-width=".6"/>
<path d="M422.4,61 L441.8,61 L439.3,71 L425.8,71 Z" fill="url(#bonnet)"/>
<rect x="422.4" y="59" width="19.4" height="3" fill="#3a3a3a"/>
<rect x="431.1" y="51" width="2.7" height="8.5" fill="#3a3a3a"/>
<rect x="407.2" y="46.9" width="49.7" height="4.5" fill="#3a3a3a"/>
<rect x="455.1" y="66.6" width="4.9" height="45.5" fill="#3a3a3a"/>
<rect x="460" y="66.6" width="2" height="45.5" fill="#9a9a9a"/>
<rect x="462" y="66.6" width="5" height="45.5" fill="#3a3a3a"/>
<rect x="467.2" y="76.5" width="21.8" height="24.8" fill="url(#mv)" stroke="#333" stroke-width=".8"/>
<rect x="489" y="66.6" width="5" height="45.5" fill="#3a3a3a"/>
<rect x="477" y="55.3" width="29" height="4.4" fill="#3a3a3a"/>
<rect x="477" y="59.5" width="2.6" height="10" fill="#3a3a3a"/>
<rect x="474.2" y="69" width="7.6" height="7.6" fill="#3a3a3a"/>
</g>
<g id="gauge1">
<circle cx="373.5" cy="39.6" r="23.2" fill="#ececec" stroke="#a6a6a6" stroke-width=".8"/>
<polyline points="359.87,50.25 356.06,42.29 357.29,33.56 362.08,26.15 370.17,22.62 378.99,22.83 386.22,27.88 390.66,35.50 390.15,44.30 385.98,52.08" fill="none" stroke="#2a2a2a" stroke-width="1" stroke-linejoin="round"/>
<path d="M385.94,29.16 L375.59,41.63 L371.87,37.19 Z" fill="#1a1a1a"/><circle cx="373.73" cy="39.41" r="2.90" fill="#1a1a1a"/>
</g>
<g id="arrows" fill="#1a1a1a">
<path d="M495.6,90.8 L503,80.8 L503,86.2 L524.4,86.2 L524.4,95.4 L503,95.4 L503,101 Z"/>
<path d="M429.4,184 L441.7,167.7 L441.7,176.5 L470.9,176.5 L470.9,191.6 L441.7,191.6 L441.7,200 Z"/>
<path d="M220.3,555.3 L207.8,547 L213.4,547 L213.4,523.5 L226.3,523.5 L226.3,547 L233.2,547 Z"/>
<path d="M778,349.5 L796.3,362 L786.3,362 L786.3,394.3 L770,394.3 L770,362 L760.7,362 Z"/>
<path d="M885.5,303 L874.8,295 L880.5,295 L880.5,274.3 L890.5,274.3 L890.5,295 L895.6,295 Z"/>
</g>
<line x1="236.6" y1="207" x2="276.3" y2="280" stroke="#1a1a1a" stroke-width="2.1"/>
<g id="labels" opacity=".999">
<text x="527.2" y="98.7" letter-spacing=".15">Treibstrom</text>
<text x="287.7" y="225.4">Saugseite</text>
<text x="603.5" y="226">Saugstrom</text>
<text x="277.5" y="304.4">Flüssigkeitsstrahl-</text>
<text x="277.8" y="338.3">Vakuumpumpe</text>
<text x="239.3" y="405.6">Gemischseite</text>
<text x="37.7" y="670.2">Fallwasserkasten</text>
<text x="664.6" y="533.8">Prozessbehälter</text>
</g>
</svg>
</body></html>
